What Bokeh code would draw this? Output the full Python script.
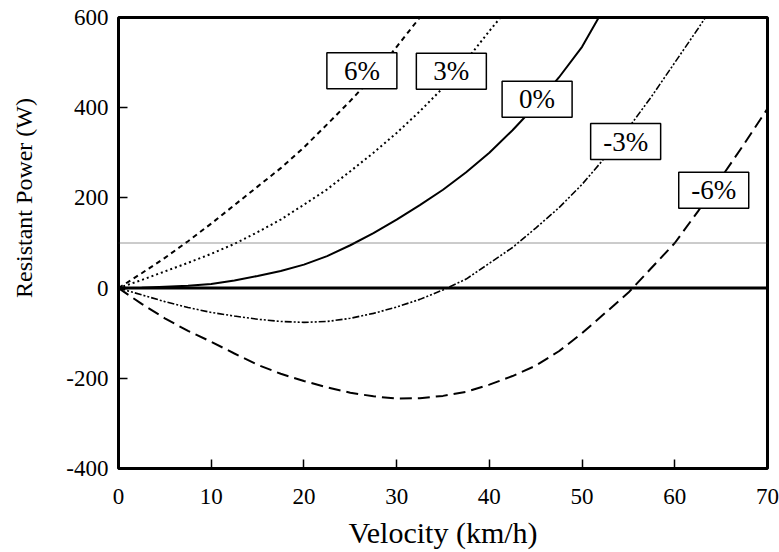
from bokeh.plotting import figure
from bokeh.models import FixedTicker, Span, ColumnDataSource, PrintfTickFormatter
from bokeh.core.properties import value
from bokeh.embed import file_html
from bokeh.resources import INLINE

# ---- data ----
v_p6 = [0, 2.5, 5, 7.5, 10, 12.5, 15, 17.5, 20, 22.5, 25, 27.5, 30, 32.5]
p_p6 = [0, 33, 67, 104, 143, 184, 225, 266, 312, 363, 415, 470, 535, 600]

v_p3 = [0, 2.5, 5, 7.5, 10, 12.5, 15, 17.5, 20, 22.5, 25, 27.5, 30, 32.5, 35, 37.5, 40, 41.2]
p_p3 = [0, 18, 37, 56, 76, 98, 124, 152, 185, 219, 259, 300, 344, 392, 444, 505, 570, 600]

v_0 = [0, 2.5, 5, 7.5, 10, 12.5, 15, 17.5, 20, 22.5, 25, 27.5, 30, 32.5, 35, 37.5, 40, 42.5, 45, 47.5, 50, 51.8]
p_0 = [0, 1, 3, 5, 9, 17, 27, 38, 52, 71, 95, 122, 152, 184, 218, 257, 300, 350, 405, 467, 535, 600]

v_m3 = [0, 2.5, 5, 7.5, 10, 12.5, 15, 17.5, 20, 22.5, 25, 27.5, 30, 32.5, 35, 37.5, 40, 42.5, 45,
        47.5, 50, 52.5, 55, 57.5, 60, 62.5, 63.3]
p_m3 = [0, -15, -30, -43, -54, -62, -69, -74, -76, -74, -67, -56, -42, -25, -4, 20, 55, 90, 133,
        178, 230, 290, 355, 425, 500, 575, 600]

v_m6 = [0, 2.5, 5, 7.5, 10, 12.5, 15, 17.5, 20, 22.5, 25, 27.5, 30, 32.5, 35, 37.5, 40, 42.5, 45,
        47.5, 50, 52.5, 55, 57.5, 60, 62.5, 65, 67.5, 70]
p_m6 = [0, -35, -67, -95, -119, -145, -170, -190, -206, -220, -232, -240, -245, -244, -239, -230,
        -214, -195, -172, -140, -100, -55, -10, 45, 100, 170, 245, 320, 398]

ref_levels = [0, 100]

label_text = ["6%", "3%", "0%", "-3%", "-6%"]
label_x = [26.25, 35.9, 45.15, 54.7, 64.2]
label_y = [482, 481, 419, 325, 217]

x_ticks = [0, 10, 20, 30, 40, 50, 60, 70]
y_ticks = [-400, -200, 0, 200, 400, 600]

x_title = "Velocity (km/h)"
y_title = "Resistant Power (W)"

FONT = "Liberation Serif, Times New Roman, serif"

p = figure(width=779, height=552, x_range=(0, 70), y_range=(-400, 600),
           output_backend="svg", toolbar_location=None,
           min_border_left=118, min_border_right=12, min_border_top=17, min_border_bottom=84)

p.background_fill_color = "white"
p.border_fill_color = "white"
p.outline_line_color = "black"
p.outline_line_width = 3
p.xgrid.grid_line_color = None
p.ygrid.grid_line_color = None

for ax in (p.xaxis[0], p.yaxis[0]):
    ax.axis_line_color = None
    ax.major_tick_in = 9
    ax.major_tick_out = 0
    ax.minor_tick_line_color = None
    ax.major_tick_line_color = "black"
    ax.major_tick_line_width = 1.5
    ax.major_label_text_font = FONT
    ax.major_label_text_font_size = "23px"
    ax.major_label_text_color = "black"
    ax.formatter = PrintfTickFormatter(format="%d")
    ax.axis_label_text_font = FONT
    ax.axis_label_text_font_style = "normal"
    ax.axis_label_text_color = "black"

p.xaxis.ticker = FixedTicker(ticks=x_ticks)
p.yaxis.ticker = FixedTicker(ticks=y_ticks)
p.xaxis.major_label_standoff = 20
p.yaxis.major_label_standoff = 10

# axis titles (the y title sits above the frame's centre in the reference,
# so it is padded with non-breaking spaces at its start)
p.xaxis.axis_label = x_title
p.xaxis.axis_label_text_font_size = "30px"
p.xaxis.axis_label_standoff = 9
p.yaxis.axis_label = "\u00a0" * 15 + y_title
p.yaxis.axis_label_text_font_size = "24px"
p.yaxis.axis_label_standoff = 26

# reference lines
p.add_layout(Span(location=ref_levels[1], dimension="width", line_color="#333333",
                  line_width=1, line_dash="1 1"))
p.add_layout(Span(location=ref_levels[0], dimension="width", line_color="black",
                  line_width=3))

# curves
p.line(v_p6, p_p6, line_color="black", line_width=2, line_dash="5 4")
p.line(v_p3, p_p3, line_color="black", line_width=2, line_dash="2 3")
p.line(v_0, p_0, line_color="black", line_width=2)
p.line(v_m3, p_m3, line_color="black", line_width=1.6, line_dash="7 2 2 2 2 2")
p.line(v_m6, p_m6, line_color="black", line_width=2, line_dash="12 6")

# boxed labels
src = ColumnDataSource(dict(x=label_x, y=label_y, t=label_text))
p.rect(x="x", y="y", width=70, height=36, width_units="screen", height_units="screen",
       source=src, fill_color="white", line_color="black", line_width=1.5)
p.text(x="x", y="y", text="t", source=src, text_align="center", text_baseline="middle",
       text_font=value(FONT), text_font_size="27px", text_color="black")

open("out.html", "w").write(file_html(p, INLINE))
